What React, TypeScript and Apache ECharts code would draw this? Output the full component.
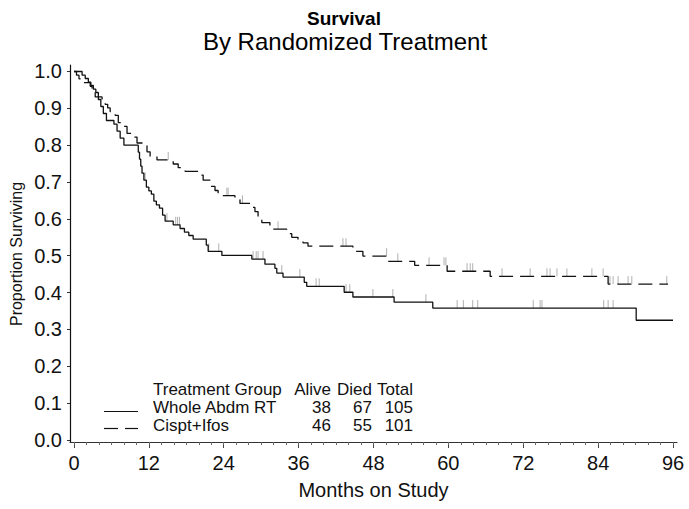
import React, { useEffect, useRef } from "react";
import * as echarts from "echarts";

// Whole Abdm RT (solid) — Kaplan-Meier steps
const wholeTimes = [0, 1.3, 1.8, 2.3, 2.7, 3.1, 3.5, 3.9, 4.3, 4.7, 5.2, 6.4, 6.9, 7.4, 8.0, 10.3, 10.5, 10.7, 10.9, 11.2, 11.6, 12.0, 12.4, 12.8, 13.2, 13.7, 14.2, 14.6, 15.9, 17.0, 17.7, 18.4, 19.1, 21.2, 21.5, 23.7, 28.5, 30.6, 32.2, 32.5, 33.5, 36.9, 37.3, 43.3, 44.7, 51.3, 57.5, 90.1, 96.0];
const wholeSurv = [1.0, 0.99, 0.981, 0.971, 0.962, 0.952, 0.943, 0.924, 0.905, 0.886, 0.867, 0.857, 0.838, 0.819, 0.8, 0.781, 0.762, 0.743, 0.724, 0.705, 0.686, 0.676, 0.667, 0.648, 0.638, 0.629, 0.61, 0.594, 0.584, 0.574, 0.564, 0.555, 0.545, 0.529, 0.512, 0.501, 0.491, 0.477, 0.466, 0.453, 0.442, 0.428, 0.417, 0.401, 0.388, 0.374, 0.358, 0.325, 0.325];
const wholeCensor = [11.4, 14.9, 16.3, 16.6, 16.9, 21.6, 23.2, 28.7, 29.2, 29.5, 30.3, 33.3, 36.2, 38.8, 39.3, 43.6, 44.2, 47.9, 51.1, 56.4, 61.4, 62.4, 63.9, 64.7, 73.6, 74.7, 75.0, 84.9, 85.6, 86.4];

// Cispt+Ifos (dashed)
const cisTimes = [0, 0.4, 0.8, 1.0, 2.6, 2.9, 3.4, 4.5, 5.0, 5.4, 5.8, 6.6, 7.1, 7.9, 8.5, 9.3, 10.1, 11.7, 12.2, 13.3, 15.9, 16.7, 17.8, 19.9, 20.7, 21.8, 22.6, 23.1, 25.8, 26.6, 28.5, 29.0, 29.5, 30.1, 31.4, 34.1, 34.9, 35.9, 36.7, 37.5, 44.7, 46.3, 50.3, 54.6, 59.8, 66.7, 85.6, 95.2];
const cisSurv = [1.0, 0.99, 0.98, 0.97, 0.96, 0.95, 0.931, 0.921, 0.911, 0.901, 0.891, 0.881, 0.861, 0.851, 0.832, 0.822, 0.806, 0.782, 0.77, 0.76, 0.749, 0.739, 0.729, 0.719, 0.705, 0.688, 0.677, 0.663, 0.652, 0.642, 0.631, 0.62, 0.605, 0.59, 0.572, 0.56, 0.55, 0.545, 0.535, 0.526, 0.512, 0.499, 0.485, 0.474, 0.458, 0.444, 0.423, 0.423];
const cisCensor = [15.1, 24.5, 24.7, 27.0, 32.7, 43.1, 43.6, 50.1, 51.9, 56.9, 59.3, 59.6, 63.0, 63.5, 63.9, 68.6, 73.1, 75.8, 76.3, 77.4, 79.0, 83.0, 84.8, 85.9, 86.4, 87.2, 88.8, 89.4, 95.0];

const xMajor = [0, 12, 24, 36, 48, 60, 72, 84, 96];
const xMinor = [0, 2, 4, 6, 8, 10, 12, 14, 16, 18, 20, 22, 24, 26, 28, 30, 32, 34, 36, 38, 40, 42, 44, 46, 48, 50, 52, 54, 56, 58, 60, 62, 64, 66, 68, 70, 72, 74, 76, 78, 80, 82, 84, 86, 88, 90, 92, 94, 96];
const yTicks = [0, 0.1, 0.2, 0.3, 0.4, 0.5, 0.6, 0.7, 0.8, 0.9, 1.0];

const legendHeader = ["Treatment Group", "Alive", "Died", "Total"];
const legendWhole = ["Whole Abdm RT", "38", "67", "105"];
const legendCis = ["Cispt+Ifos", "46", "55", "101"];

const FONT = "'Liberation Sans', Arial, Helvetica, sans-serif";

function survAt(times: number[], surv: number[], t: number) {
  let s = surv[0];
  for (let i = 0; i < times.length; i++) if (times[i] <= t) s = surv[i];
  return s;
}

function tickSeries(times: number[], surv: number[], censor: number[]) {
  return {
    type: "custom",
    xAxisIndex: 0,
    yAxisIndex: 0,
    silent: true,
    data: censor.map((t) => [t, survAt(times, surv, t)]),
    renderItem: (_p: any, api: any) => {
      const pt = api.coord([api.value(0), api.value(1)]);
      return {
        type: "line",
        shape: { x1: pt[0], y1: pt[1], x2: pt[0], y2: pt[1] - 8 },
        style: { stroke: "#b0b0b0", lineWidth: 1 },
      };
    },
  };
}

function legendRow(vals: string[], y: number) {
  const xs = [153, 331, 372, 413];
  return vals.map((v, i) => ({
    type: "text",
    x: xs[i],
    y,
    style: {
      text: v,
      fontSize: 17,
      fontFamily: FONT,
      fill: "#111",
      align: i === 0 ? "left" : "right",
      verticalAlign: "middle",
    },
  }));
}

export default function App() {
  const ref = useRef<HTMLDivElement>(null);
  useEffect(() => {
    const chart = echarts.init(ref.current!, null, { renderer: "svg" });
    const option: any = {
      animation: false,
      backgroundColor: "#ffffff",
      grid: { left: 70, right: 12, top: 65, bottom: 67, containLabel: false },
      xAxis: [
        {
          type: "value",
          min: -0.64,
          max: 96.64,
          axisLine: { show: true, onZero: false, lineStyle: { color: "#333", width: 1.2 } },
          axisTick: { show: true, customValues: xMajor, length: 6, lineStyle: { color: "#444" } },
          axisLabel: { customValues: xMajor, fontSize: 20, color: "#111", fontFamily: FONT, margin: 11 },
          splitLine: { show: false },
          name: "Months on Study",
          nameLocation: "middle",
          nameGap: 38,
          nameTextStyle: { fontSize: 20, color: "#111", fontFamily: FONT },
        },
        {
          type: "value",
          min: -0.64,
          max: 96.64,
          position: "bottom",
          axisLine: { show: false, onZero: false },
          axisTick: { show: true, customValues: xMinor, length: 3, lineStyle: { color: "#666" } },
          axisLabel: { show: false },
          splitLine: { show: false },
        },
      ],
      yAxis: {
        type: "value",
        min: -0.0054,
        max: 1.0176,
        axisLine: { show: true, onZero: false, lineStyle: { color: "#111", width: 1.2 } },
        axisTick: { show: true, customValues: yTicks, length: 3, lineStyle: { color: "#333" } },
        axisLabel: {
          customValues: yTicks,
          formatter: (v: number) => v.toFixed(1),
          fontSize: 20,
          color: "#111",
          fontFamily: FONT,
          margin: 8,
        },
        splitLine: { show: false },
      },
      series: [
        tickSeries(wholeTimes, wholeSurv, wholeCensor),
        tickSeries(cisTimes, cisSurv, cisCensor),
        {
          type: "line",
          name: "Whole Abdm RT",
          step: "end",
          symbol: "none",
          data: wholeTimes.map((t, i) => [t, wholeSurv[i]]),
          lineStyle: { color: "#111", width: 1.3, type: "solid" },
        },
        {
          type: "line",
          name: "Cispt+Ifos",
          step: "end",
          symbol: "none",
          data: cisTimes.map((t, i) => [t, cisSurv[i]]),
          lineStyle: { color: "#111", width: 1.3, type: [14, 7] },
        },
      ],
      graphic: [
        {
          type: "text",
          x: 344,
          y: 18,
          style: { text: "Survival", fontSize: 19, fontWeight: "bold", fontFamily: FONT, fill: "#000", align: "center", verticalAlign: "middle" },
        },
        {
          type: "text",
          x: 345,
          y: 41,
          style: { text: "By Randomized Treatment", fontSize: 24, fontFamily: FONT, fill: "#000", align: "center", verticalAlign: "middle" },
        },
        {
          type: "text",
          x: 16,
          y: 254,
          rotation: Math.PI / 2,
          style: { text: "Proportion Surviving", fontSize: 16, fontFamily: FONT, fill: "#111", align: "center", verticalAlign: "middle" },
        },
        ...legendRow(legendHeader, 389.5),
        ...legendRow(legendWhole, 407.5),
        ...legendRow(legendCis, 425.5),
        { type: "line", shape: { x1: 104, y1: 411.5, x2: 138, y2: 411.5 }, style: { stroke: "#111", lineWidth: 1.2 } },
        { type: "line", shape: { x1: 104, y1: 428.5, x2: 118, y2: 428.5 }, style: { stroke: "#111", lineWidth: 1.2 } },
        { type: "line", shape: { x1: 125, y1: 428.5, x2: 138, y2: 428.5 }, style: { stroke: "#111", lineWidth: 1.2 } },
      ],
    };
    chart.setOption(option);
    return () => chart.dispose();
  }, []);
  return <div ref={ref} style={{ position: "fixed", left: 0, top: 0, width: 689, height: 509 }} />;
}
